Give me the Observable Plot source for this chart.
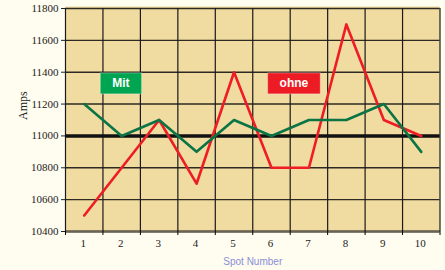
<!DOCTYPE html>
<html><head><meta charset="utf-8">
<script src="https://cdn.jsdelivr.net/npm/d3@7"></script>
<script src="https://cdn.jsdelivr.net/npm/@observablehq/plot@0.6"></script>
<style>body{margin:0;background:#fffdf0;overflow:hidden}</style>
</head><body><div id="chart"></div>
<script>
const spots = [1,2,3,4,5,6,7,8,9,10];
const mit  = [11200,11000,11100,10900,11100,11000,11100,11100,11200,10900];
const ohne = [10500,10800,11100,10700,11400,10800,10800,11700,11100,11000];
const yTicks = [10400,10600,10800,11000,11200,11400,11600,11800];
const baseline = [11000];
const labels = [
  {x: 1.98, y: 11330, text: "Mit", series: "mit"},
  {x: 6.6, y: 11330, text: "ohne", series: "ohne"}
];

const colors = {mit: "#0a7444", ohne: "#ee1d25"};
const boxColors = {mit: "#00a551", ohne: "#ed1c24"};

const mitData = spots.map((s,i)=>({x:s, y:mit[i]}));
const ohneData = spots.map((s,i)=>({x:s, y:ohne[i]}));
const bounds = [spots[0]-0.5, ...spots.map(s=>s+0.5)];

const serif = "'Liberation Serif', 'Times New Roman', serif";
const sans = "'Liberation Sans', Arial, sans-serif";

function boxed(fillMap, padX, h) {
  return function(index, scales, values, dims, context, next) {
    const g = next(index, scales, values, dims, context);
    const ctx = document.createElement("canvas").getContext("2d");
    ctx.font = `bold 12px ${sans}`;
    const ns = "http://www.w3.org/2000/svg";
    for (const i of index) {
      const w = ctx.measureText(labels[i].text).width + padX*2;
      const r = document.createElementNS(ns, "rect");
      r.setAttribute("x", values.x[i] - w/2);
      r.setAttribute("y", values.y[i] - h/2);
      r.setAttribute("width", w);
      r.setAttribute("height", h);
      r.setAttribute("fill", fillMap[labels[i].series]);
      r.setAttribute("stroke", "rgba(255,255,255,0.35)");
      r.setAttribute("stroke-width", "1");
      g.insertBefore(r, g.firstChild);
    }
    return g;
  };
}

const chart = Plot.plot({
  width: 445, height: 270,
  marginLeft: 65, marginRight: 5.5, marginTop: 8, marginBottom: 39,
  style: {background: "transparent", overflow: "visible"},
  x: {domain: [bounds[0], bounds[bounds.length-1]], axis: null},
  y: {domain: [yTicks[0], yTicks[yTicks.length-1]], axis: null},
  marks: [
    Plot.frame({fill: "#f0dba0", stroke: null, insetTop: -2}),
    Plot.ruleY(yTicks, {stroke: "#2e2a22", strokeWidth: 1.4}),
    Plot.ruleY([yTicks[0]], {stroke: "#6b6455", strokeWidth: 2.5}),
    Plot.ruleX(bounds, {stroke: "#1a1a1a", strokeWidth: 1.2}),
    Plot.ruleY(baseline, {stroke: "#111", strokeWidth: 3.5}),
    Plot.line(ohneData, {x: "x", y: "y", stroke: colors.ohne, strokeWidth: 2.6}),
    Plot.line(mitData, {x: "x", y: "y", stroke: colors.mit, strokeWidth: 2.6}),
    Plot.text(labels, {x: "x", y: "y", text: "text", fill: "white", fontWeight: "bold",
      fontSize: 12, fontFamily: sans, render: boxed(boxColors, 12, 21)}),
    Plot.axisY({ticks: yTicks, tickSize: 4, tickPadding: 3, fontSize: 11, fontFamily: serif,
      tickFormat: d => String(d), label: null, color: "#222"}),
    Plot.axisX({ticks: bounds, tickSize: 4, tickFormat: () => "", label: null}),
    Plot.text(spots, {x: d => d, frameAnchor: "bottom", dy: 15, dx: -1, text: d => String(d),
      fontSize: 11, fontFamily: serif, fill: "#222"}),
    Plot.text(["Amps"], {frameAnchor: "left", dx: -42, rotate: -90, fontSize: 12,
      fontFamily: serif, fill: "#222"}),
    Plot.text(["Spot Number"], {frameAnchor: "bottom", dy: 33, fontSize: 10,
      fontFamily: sans, fill: "#8a8ed4"})
  ]
});
document.getElementById("chart").appendChild(chart);
</script>
</body></html>
